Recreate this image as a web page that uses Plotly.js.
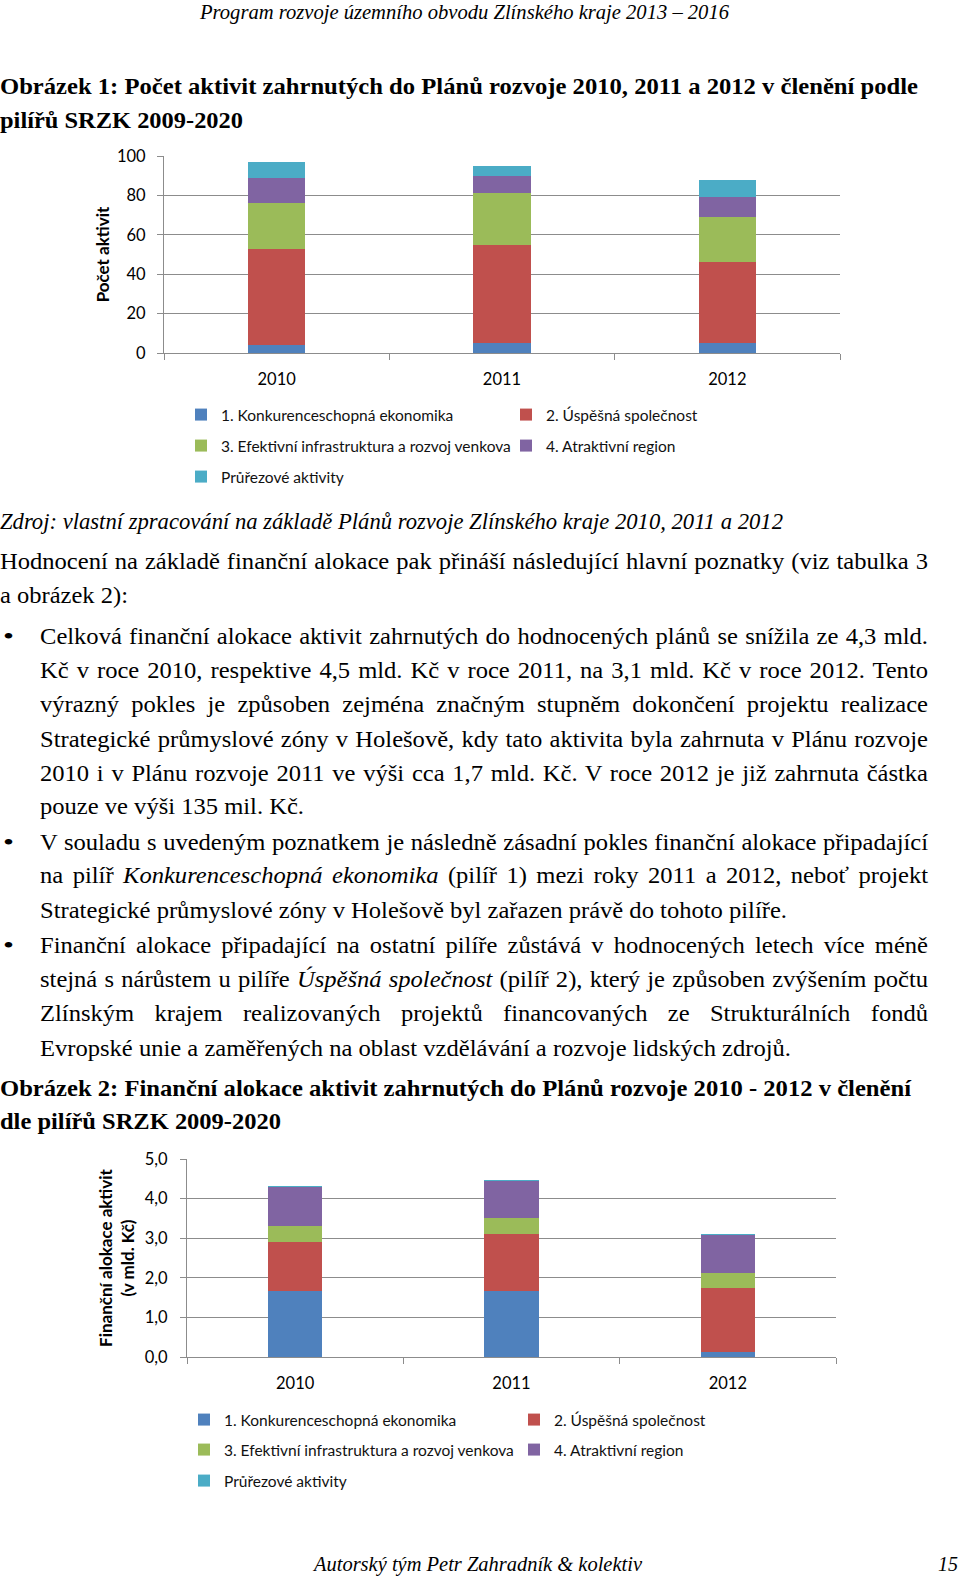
<!DOCTYPE html>
<html>
<head>
<meta charset="utf-8">
<script src="https://cdn.plot.ly/plotly-3.0.1.min.js"></script>
<style>
html,body{margin:0;padding:0;background:#fff;}
#page{position:relative;width:960px;height:1578px;overflow:hidden;background:#fff;}
.ln{position:absolute;white-space:nowrap;line-height:30px;height:30px;transform-origin:0 50%;
 font-family:"Liberation Serif","Times New Roman",serif;font-size:24px;color:#000;}
.it{font-style:italic;}
.bd{font-weight:bold;}
.chart{position:absolute;left:0;width:960px;height:360px;}
</style>
</head>
<body>
<div id="page">
 <div class="ln it" data-x="200" data-y="12" data-w="529" data-lh="22" style="font-size:21px">Program rozvoje územního obvodu Zlínského kraje 2013 – 2016</div>

 <div class="ln bd" data-x="0" data-y="86" data-w="918">Obrázek 1: Počet aktivit zahrnutých do Plánů rozvoje 2010, 2011 a 2012 v členění podle</div>
 <div class="ln bd" data-x="0" data-y="120" data-w="243">pilířů SRZK 2009-2020</div>

 <div id="chart1" class="chart" style="top:140px"></div>

 <div class="ln it" data-x="0" data-y="521" data-w="783">Zdroj: vlastní zpracování na základě Plánů rozvoje Zlínského kraje 2010, 2011 a 2012</div>
 <div class="ln" data-x="0" data-y="561" data-w="928" data-j="1">Hodnocení na základě finanční alokace pak přináší následující hlavní poznatky (viz tabulka 3</div>
 <div class="ln" data-x="0" data-y="595" data-w="128">a obrázek 2):</div>

 <div class="ln" data-x="3" data-y="636" data-w="11">•</div>
 <div class="ln" data-x="40" data-y="636" data-w="888" data-j="1">Celková finanční alokace aktivit zahrnutých do hodnocených plánů se snížila ze 4,3 mld.</div>
 <div class="ln" data-x="40" data-y="670" data-w="888" data-j="1">Kč v roce 2010, respektive 4,5 mld. Kč v roce 2011, na 3,1 mld. Kč v roce 2012. Tento</div>
 <div class="ln" data-x="40" data-y="704" data-w="888" data-j="1">výrazný pokles je způsoben zejména značným stupněm dokončení projektu realizace</div>
 <div class="ln" data-x="40" data-y="739" data-w="888" data-j="1">Strategické průmyslové zóny v Holešově, kdy tato aktivita byla zahrnuta v Plánu rozvoje</div>
 <div class="ln" data-x="40" data-y="773" data-w="888" data-j="1">2010 i v Plánu rozvoje 2011 ve výši cca 1,7 mld. Kč. V roce 2012 je již zahrnuta částka</div>
 <div class="ln" data-x="40" data-y="806" data-w="264">pouze ve výši 135 mil. Kč.</div>

 <div class="ln" data-x="3" data-y="842" data-w="11">•</div>
 <div class="ln" data-x="40" data-y="842" data-w="888" data-j="1">V souladu s uvedeným poznatkem je následně zásadní pokles finanční alokace připadající</div>
 <div class="ln" data-x="40" data-y="875" data-w="888" data-j="1">na pilíř <i>Konkurenceschopná ekonomika</i> (pilíř 1) mezi roky 2011 a 2012, neboť projekt</div>
 <div class="ln" data-x="40" data-y="910" data-w="747">Strategické průmyslové zóny v Holešově byl zařazen právě do tohoto pilíře.</div>

 <div class="ln" data-x="3" data-y="945" data-w="11">•</div>
 <div class="ln" data-x="40" data-y="945" data-w="888" data-j="1">Finanční alokace připadající na ostatní pilíře zůstává v hodnocených letech více méně</div>
 <div class="ln" data-x="40" data-y="979" data-w="888" data-j="1">stejná s nárůstem u pilíře <i>Úspěšná společnost</i> (pilíř 2), který je způsoben zvýšením počtu</div>
 <div class="ln" data-x="40" data-y="1013" data-w="888" data-j="1">Zlínským krajem realizovaných projektů financovaných ze Strukturálních fondů</div>
 <div class="ln" data-x="40" data-y="1048" data-w="751">Evropské unie a zaměřených na oblast vzdělávání a rozvoje lidských zdrojů.</div>

 <div class="ln bd" data-x="0" data-y="1088" data-w="911">Obrázek 2: Finanční alokace aktivit zahrnutých do Plánů rozvoje 2010 - 2012 v členění</div>
 <div class="ln bd" data-x="0" data-y="1121" data-w="281">dle pilířů SRZK 2009-2020</div>

 <div id="chart2" class="chart" style="top:1140px"></div>

 <div class="ln it" data-x="314" data-y="1564" data-w="328" data-lh="24" style="font-size:21px">Autorský tým Petr Zahradník &amp; kolektiv</div>
 <div class="ln it" data-x="938" data-y="1564" data-w="20" data-lh="24" style="font-size:21px">15</div>
</div>

<script>
// ---------- data ----------
const years = ['2010', '2011', '2012'];
const seriesNames = [
  '1. Konkurenceschopná ekonomika',
  '2. Úspěšná společnost',
  '3. Efektivní infrastruktura a rozvoj venkova',
  '4. Atraktivní region',
  'Průřezové aktivity'
];
// Obrázek 1: počet aktivit
const count1 = [4, 5, 5];
const count2 = [49, 50, 41];
const count3 = [23, 26, 23];
const count4 = [13, 9, 10];
const count5 = [8, 5, 9];
// Obrázek 2: finanční alokace (mld. Kč)
const alloc1 = [1.67, 1.67, 0.135];
const alloc2 = [1.23, 1.44, 1.61];
const alloc3 = [0.42, 0.40, 0.38];
const alloc4 = [0.98, 0.94, 0.96];
const alloc5 = [0.015, 0.015, 0.015];

const colors = ['#4F81BD', '#C0504D', '#9BBB59', '#8064A2', '#4BACC6'];
const legendIds = ['legend', 'legend2', 'legend3', 'legend4', 'legend5'];

// ---------- text fitting ----------
const K = 1.023;
document.querySelectorAll('.ln').forEach(el => {
  const x = +el.dataset.x, y = +el.dataset.y, w = +el.dataset.w;
  const lh = el.dataset.lh ? +el.dataset.lh : 30;
  el.style.left = x + 'px';
  el.style.lineHeight = lh + 'px';
  el.style.height = lh + 'px';
  el.style.top = Math.max(0, y - lh / 2) + 'px';
  el.style.display = 'inline-block';
  const n = el.getBoundingClientRect().width;
  if (el.dataset.j && n * K <= w) {
    el.style.whiteSpace = 'normal';
    el.style.width = (w / K) + 'px';
    el.style.textAlign = 'justify';
    el.style.textAlignLast = 'justify';
    el.style.transform = 'scaleX(' + K + ')';
  } else {
    el.style.transform = 'scaleX(' + (w / n) + ')';
  }
});

// ---------- charts ----------
const FONT = 'Lato, Carlito, Calibri, "Open Sans", sans-serif';
const GRID = '#8c8c8c';

function makeTraces(vals) {
  return vals.map((v, i) => ({
    type: 'bar', x: years, y: v, name: seriesNames[i],
    marker: {color: colors[i], line: {width: 0}},
    legend: legendIds[i]
  }));
}

function legendObjs(pos, top, H) {
  const out = {};
  pos.forEach((p, i) => {
    out[legendIds[i]] = {
      xref: 'container', yref: 'container',
      x: (p[0] - 20) / 960, xanchor: 'left',
      y: 1 - (p[1] - top) / H, yanchor: 'middle',
      bgcolor: 'rgba(0,0,0,0)', borderwidth: 0,
      orientation: 'h',
      font: {family: FONT, size: 15.5, color: '#111'}
    };
  });
  return out;
}

function baseLayout(opts) {
  return Object.assign({
    width: 960, height: 360,
    paper_bgcolor: 'rgba(0,0,0,0)', plot_bgcolor: '#fff',
    barmode: 'stack',
    separators: ', ',
    showlegend: true,
    font: {family: FONT, size: 16, color: '#000'},
    xaxis: {
      type: 'category', showgrid: false, zeroline: false,
      showline: true, linecolor: GRID, linewidth: 1,
      ticks: 'outside', tickson: 'boundaries', ticklen: 6, tickcolor: GRID,
      tickfont: {family: FONT, size: 16.5, color: '#000'},
      ticklabelstandoff: 11, fixedrange: true
    }
  }, opts);
}

const top1 = 140, H1 = 360;
const layout1 = baseLayout(Object.assign({
  margin: {l: 164, r: 120, t: 16, b: 147},
  bargap: 0.745,
  yaxis: {
    range: [0, 100], dtick: 20, tick0: 0,
    showgrid: true, gridcolor: GRID, gridwidth: 1, zeroline: false,
    showline: true, linecolor: GRID, ticks: 'outside', ticklen: 6, tickcolor: GRID,
    tickfont: {family: FONT, size: 16.5, color: '#000'}, ticklabelstandoff: 8,
    title: {text: 'Počet aktivit', standoff: 3, font: {family: FONT, size: 17, weight: 700, color: '#000'}},
    fixedrange: true
  }
}, legendObjs([[201, 415], [526, 415], [201, 446], [526, 446], [201, 477]], top1, H1)));

const top2 = 1140, H2 = 360;
const layout2 = baseLayout(Object.assign({
  margin: {l: 187, r: 124, t: 19, b: 143},
  bargap: 0.75,
  yaxis: {
    range: [0, 5], dtick: 1, tick0: 0, tickformat: '.1f',
    showgrid: true, gridcolor: GRID, gridwidth: 1, zeroline: false,
    showline: true, linecolor: GRID, ticks: 'outside', ticklen: 6, tickcolor: GRID,
    tickfont: {family: FONT, size: 16.5, color: '#000'}, ticklabelstandoff: 9,
    title: {text: 'Finanční alokace aktivit<br>(v mld. Kč)', standoff: 5, font: {family: FONT, size: 17, weight: 700, color: '#000'}},
    fixedrange: true
  }
}, legendObjs([[204, 1420], [534, 1420], [204, 1450], [534, 1450], [204, 1481]], top2, H2)));

Plotly.newPlot('chart1', makeTraces([count1, count2, count3, count4, count5]), layout1, {staticPlot: true, displayModeBar: false});
Plotly.newPlot('chart2', makeTraces([alloc1, alloc2, alloc3, alloc4, alloc5]), layout2, {staticPlot: true, displayModeBar: false});
</script>
</body>
</html>
